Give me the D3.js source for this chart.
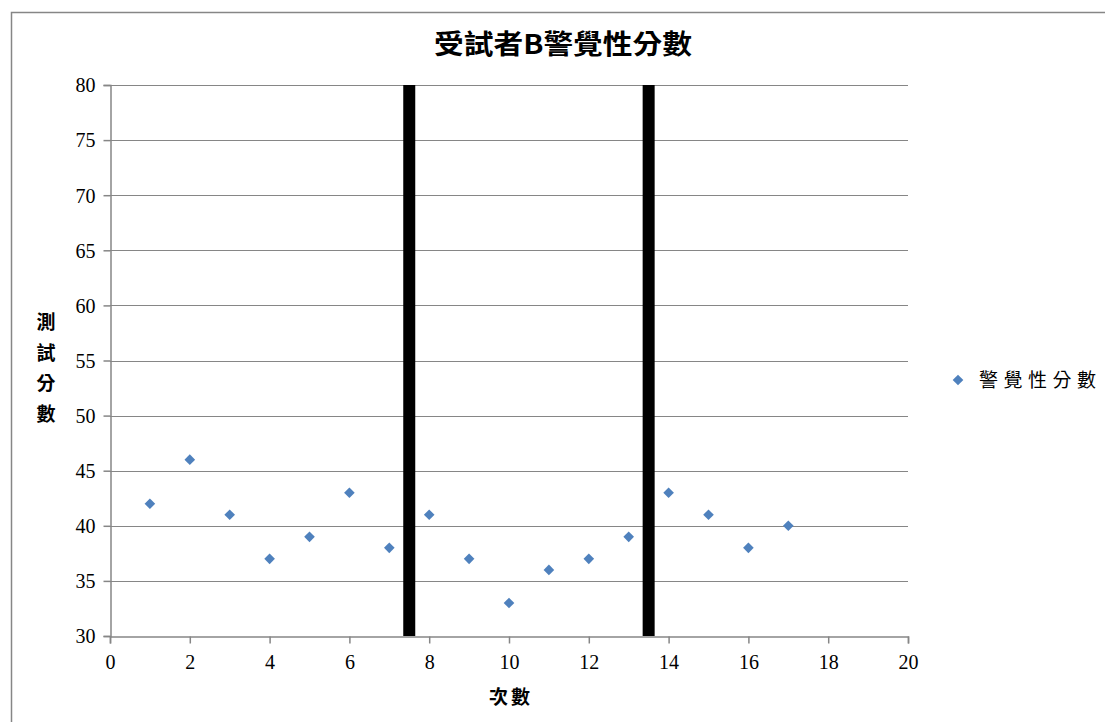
<!DOCTYPE html>
<html>
<head>
<meta charset="utf-8">
<script src="https://cdn.jsdelivr.net/npm/d3@7"></script>
<style>
  html, body { margin: 0; padding: 0; background: #fff; }
  svg { display: block; }
</style>
</head>
<body>
<svg id="chart" width="1105" height="722"></svg>
<script>
// Session numbers and alertness scores for subject B
const sessions = [1, 2, 3, 4, 5, 6, 7, 8, 9, 10, 11, 12, 13, 14, 15, 16, 17];
const scores = [42, 46, 41, 37, 39, 43, 38, 41, 37, 33, 36, 37, 39, 43, 41, 38, 40];
// Phase boundaries (between sessions 7/8 and 13/14)
const phaseBreaks = [7.5, 13.5];
const xTicks = [0, 2, 4, 6, 8, 10, 12, 14, 16, 18, 20];
const yTicks = [30, 35, 40, 45, 50, 55, 60, 65, 70, 75, 80];

const titleText = "受試者B警覺性分數";
const yLabel = ["測", "試", "分", "數"];
const xLabel = "次數";
const legendText = "警覺性分數";

const svg = d3.select("#chart");
const serif = "'Liberation Serif', 'Times New Roman', serif";
const cjk = "'Noto Sans CJK TC', 'Noto Sans CJK SC', sans-serif";
const gray = "#868686";
const blue = "#4F81BD";

// Outer chart frame
svg.append("path")
  .attr("d", "M11.5,722 V12.5 H1105")
  .attr("fill", "none").attr("stroke", gray).attr("stroke-width", 1.5);

const x = d3.scaleLinear().domain([0, 20]).range([110, 908]);
const y = d3.scaleLinear().domain([30, 80]).range([636, 85]);

// Horizontal gridlines
svg.append("g").selectAll("line").data(yTicks.slice(1)).join("line")
  .attr("x1", x(0)).attr("x2", x(20))
  .attr("y1", d => Math.round(y(d)) + 0.5).attr("y2", d => Math.round(y(d)) + 0.5)
  .attr("stroke", gray).attr("stroke-width", 1);

// Y axis
const yAxis = svg.append("g")
  .attr("transform", `translate(${x(0) + 0.5},0)`)
  .call(d3.axisLeft(y).tickValues(yTicks).tickSize(7).tickPadding(8).tickFormat(d3.format("d")));
yAxis.select(".domain").attr("stroke", gray).attr("stroke-width", 1.5);
yAxis.selectAll(".tick line").attr("stroke", gray).attr("stroke-width", 1.5);
yAxis.selectAll("text").attr("font-family", serif).attr("font-size", 20).attr("fill", "#000")
  .attr("dy", "0.34em");

// X axis
const xAxis = svg.append("g")
  .attr("transform", `translate(0,${y(30) + 0.5})`)
  .call(d3.axisBottom(x).tickValues(xTicks).tickSize(7).tickPadding(11).tickFormat(d3.format("d")));
xAxis.select(".domain").attr("stroke", gray).attr("stroke-width", 1.5);
xAxis.selectAll(".tick line").attr("stroke", gray).attr("stroke-width", 1.5);
xAxis.selectAll("text").attr("font-family", serif).attr("font-size", 20).attr("fill", "#000");

// Phase break bars
svg.append("g").selectAll("rect").data(phaseBreaks).join("rect")
  .attr("x", d => x(d) - 6).attr("width", 12)
  .attr("y", y(80)).attr("height", y(30) - y(80))
  .attr("fill", "#000");

// Score markers (diamonds)
const diamond = d3.symbol().type(d3.symbolDiamond2).size(72);
svg.append("g").selectAll("path").data(sessions).join("path")
  .attr("d", diamond)
  .attr("transform", (d, i) => `translate(${x(d)},${y(scores[i])})`)
  .attr("fill", blue);

// Title
svg.append("text")
  .attr("x", 563).attr("y", 54)
  .attr("text-anchor", "middle")
  .attr("font-family", cjk).attr("font-weight", "bold").attr("font-size", 27)
  .attr("textLength", 258).attr("lengthAdjust", "spacingAndGlyphs")
  .attr("fill", "#000")
  .text(titleText);

// Y axis title (stacked characters)
svg.append("g").selectAll("text").data(yLabel).join("text")
  .attr("x", 46).attr("y", (d, i) => 329 + i * 30.5)
  .attr("text-anchor", "middle")
  .attr("font-family", cjk).attr("font-weight", "bold").attr("font-size", 19)
  .attr("fill", "#000")
  .text(d => d);

// X axis title
svg.append("text")
  .attr("x", 511).attr("y", 704)
  .attr("text-anchor", "middle")
  .attr("font-family", cjk).attr("font-weight", "bold").attr("font-size", 19)
  .attr("letter-spacing", 3)
  .attr("fill", "#000")
  .text(xLabel);

// Legend
svg.append("path")
  .attr("d", diamond)
  .attr("transform", "translate(958,380)")
  .attr("fill", blue);
svg.append("text")
  .attr("x", 979).attr("y", 387)
  .attr("font-family", cjk).attr("font-size", 19)
  .attr("textLength", 117).attr("lengthAdjust", "spacing")
  .attr("fill", "#000")
  .text(legendText);
</script>
</body>
</html>
